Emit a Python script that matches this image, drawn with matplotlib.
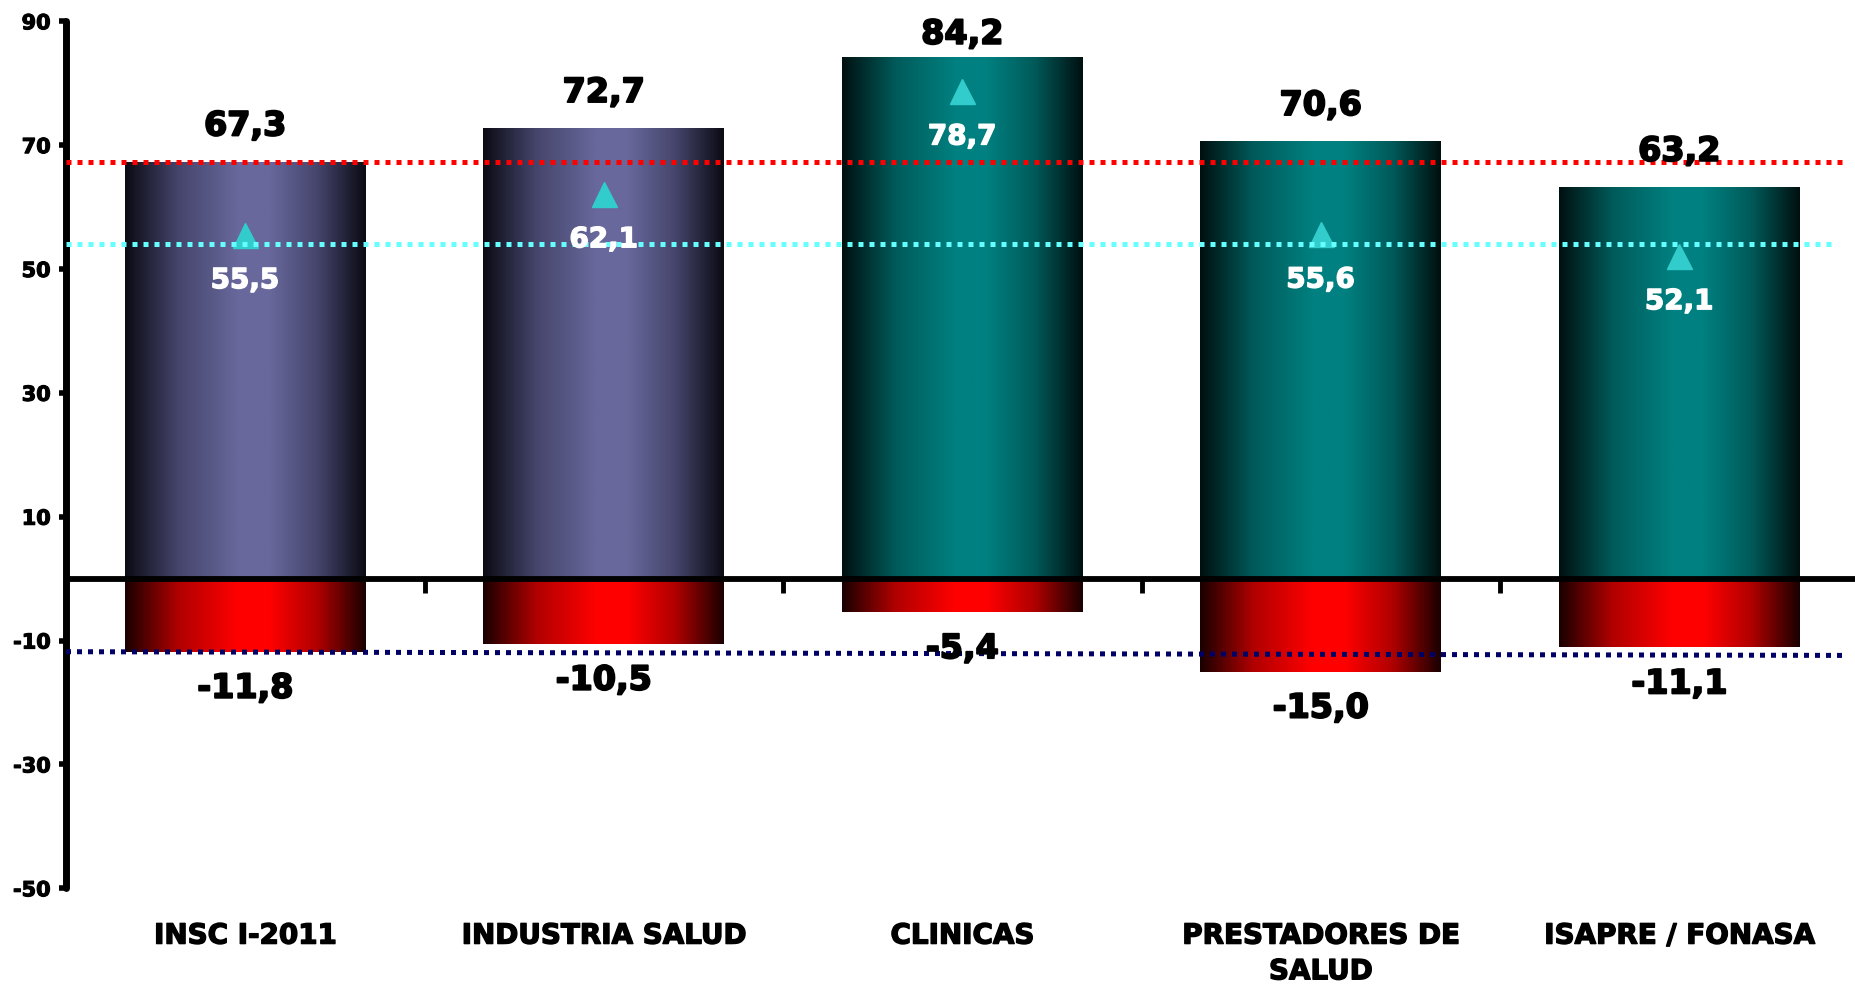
import numpy as np
import matplotlib
matplotlib.use("Agg")
import matplotlib.pyplot as plt
import matplotlib.patheffects as pe
from matplotlib.colors import LinearSegmentedColormap

categories = ["INSC I-2011", "INDUSTRIA SALUD", "CLINICAS", "PRESTADORES DE\nSALUD", "ISAPRE / FONASA"]
positivos = [67.3, 72.7, 84.2, 70.6, 63.2]
negativos = [-11.8, -10.5, -5.4, -15.0, -11.1]
balance = [55.5, 62.1, 78.7, 55.6, 52.1]

# reference levels drawn as dotted lines across the chart
ref_pos = 67.3
ref_bal = 54.1
ref_neg = [-11.8, -12.4]   # left end, right end

yticks = [-50, -30, -10, 10, 30, 50, 70, 90]

plt.rcParams["font.family"] = ["DejaVu Sans"]
plt.rcParams["font.weight"] = "bold"


def fmt(v):
    return f"{v:.1f}".replace(".", ",")


def heavy(color, lw=1.0):
    # a thin outline in the same colour makes the bold text a bit heavier
    return [pe.withStroke(linewidth=lw, foreground=color)]


def gradient(edge, mid):
    return LinearSegmentedColormap.from_list(
        "g", [(0.0, edge), (0.22, mid[0]), (0.47, mid[1]), (0.6, mid[1]), (0.8, mid[0]), (1.0, edge)])


cm_purple = gradient("#0b0b14", ("#45456c", "#68689c"))
cm_teal = gradient("#001010", ("#005a5a", "#008080"))
cm_red = gradient("#1a0000", ("#b00000", "#ff0000"))

fig = plt.figure(figsize=(18.56, 9.85), dpi=100)
ax = fig.add_axes([66 / 1856, 0.0982, 0.9658, 0.8802])

x = np.arange(len(categories))
width = 0.672

pos_bars = ax.bar(x, positivos, width, color="none", zorder=1)
neg_bars = ax.bar(x, negativos, width, color="none", zorder=1)

grad = np.linspace(0, 1, 256).reshape(1, -1)
for i, (p, n) in enumerate(zip(pos_bars, neg_bars)):
    cmap = cm_purple if i < 2 else cm_teal
    for patch, cm in ((p, cmap), (n, cm_red)):
        x0 = patch.get_x()
        y0 = patch.get_y()
        x1 = x0 + patch.get_width()
        y1 = y0 + patch.get_height()
        ax.imshow(grad, cmap=cm, aspect="auto", extent=(x0, x1, min(y0, y1), max(y0, y1)),
                  zorder=1, interpolation="bilinear")

xmin, xmax = -0.5, len(categories) - 0.5
ax.set_xlim(xmin, xmax)
ax.set_ylim(-50, 90)

# zero line
ax.axhline(0, color="black", lw=4.2, zorder=3)

# triangles for balance
ax.plot(x, balance, linestyle="none", marker="^", markersize=18, color="#33cccc", zorder=4)

# dotted reference lines
dots = (0, (1, 1.2))
ax.plot([xmin, xmax - 0.03], [ref_pos, ref_pos], color="#ff0000", lw=3.6, linestyle=dots,
        dash_capstyle="butt", zorder=5)
ax.plot([xmin, xmax - 0.06], [ref_bal, ref_bal], color="#66ffff", lw=3.6, linestyle=dots,
        dash_capstyle="butt", zorder=5)
ax.plot([xmin, xmax - 0.03], ref_neg, color="#000066", lw=3.6, linestyle=dots,
        dash_capstyle="butt", zorder=5)

# value labels
for i in range(len(categories)):
    ax.text(x[i], min(positivos[i] + 5.8, 87.9), fmt(positivos[i]), ha="center", va="center",
            fontsize=24, fontweight="bold", color="black", zorder=6, path_effects=heavy("black", 1.4))
    ax.text(x[i], negativos[i] - 5.9, fmt(negativos[i]), ha="center", va="center",
            fontsize=24, fontweight="bold", color="black", zorder=6, path_effects=heavy("black", 1.4))
    ax.text(x[i], balance[i] - 7.3, fmt(balance[i]), ha="center", va="center",
            fontsize=20, fontweight="bold", color="white", zorder=6, path_effects=heavy("white", 1.0))
    ax.annotate(categories[i], xy=(x[i], -50), xytext=(0, -24), textcoords="offset points",
                ha="center", va="top", fontsize=20, fontweight="bold", linespacing=1.35,
                annotation_clip=False, path_effects=heavy("black", 1.0))

# axes styling
for s in ("top", "right"):
    ax.spines[s].set_visible(False)
ax.spines["left"].set_linewidth(5)
ax.spines["left"].set_capstyle("round")
ax.spines["bottom"].set_position(("data", 0))
ax.spines["bottom"].set_visible(False)

ax.set_yticks(yticks)
ax.set_yticklabels([str(t) for t in yticks], fontsize=15, fontweight="bold")
for lbl in ax.get_yticklabels():
    lbl.set_path_effects(heavy("black", 0.8))
ax.tick_params(axis="y", length=5, width=4, direction="out", pad=6)

ax.set_xticks(np.arange(len(categories)) + 0.5)
ax.set_xticklabels([])
ax.tick_params(axis="x", length=10, width=3.5, direction="out", pad=0)
ax.xaxis.set_ticks_position("bottom")

fig.savefig("out.png", dpi=100)
